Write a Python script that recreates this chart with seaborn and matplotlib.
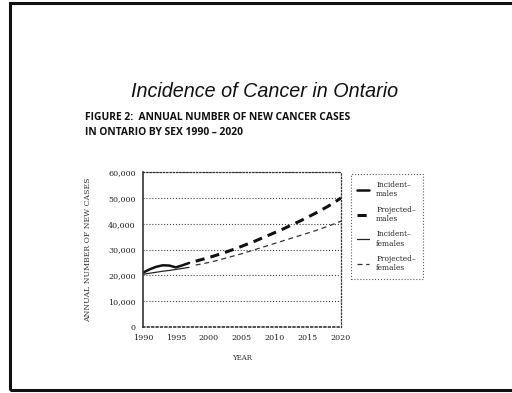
import matplotlib
matplotlib.use("Agg")
import matplotlib.pyplot as plt
from matplotlib.patches import Rectangle
from matplotlib.ticker import MultipleLocator, FuncFormatter
import seaborn as sns
import pandas as pd

# Observed incidence, 1990-1997
incident_years = [1990, 1991, 1992, 1993, 1994, 1995, 1996, 1997]
incident_males = [21000, 22300, 23300, 23900, 23800, 23100, 23900, 24800]
incident_females = [20400, 20800, 21200, 21600, 21900, 22300, 22700, 23100]

# Projections, 1998-2020
projected_years = list(range(1998, 2021))
projected_males = [25500, 26200, 26900, 27700, 28500, 29400, 30300, 31300,
                   32300, 33300, 34400, 35500, 36600, 37700, 38900, 40100,
                   41300, 42600, 43900, 45300, 46700, 48300, 50000]
projected_females = [24000, 24500, 25000, 25600, 26300, 27000, 27700, 28400,
                     29200, 30000, 30800, 31600, 32400, 33200, 34000, 34800,
                     35600, 36400, 37200, 38100, 39000, 40000, 41000]

series_labels = ["Incident\u2013\nmales", "Projected\u2013\nmales",
                 "Incident\u2013\nfemales", "Projected\u2013\nfemales"]
x_ticks = [1990, 1995, 2000, 2005, 2010, 2015, 2020]
y_ticks = [0, 10000, 20000, 30000, 40000, 50000, 60000]

sns.set_style("white")
plt.rcParams["font.family"] = ["DejaVu Serif"]

fig = plt.figure(figsize=(5.12, 3.93), dpi=100)
ax = fig.add_axes([0.279, 0.168, 0.387, 0.394])

frames = [
    pd.DataFrame({"year": incident_years, "cases": incident_males}),
    pd.DataFrame({"year": projected_years, "cases": projected_males}),
    pd.DataFrame({"year": incident_years, "cases": incident_females}),
    pd.DataFrame({"year": projected_years, "cases": projected_females}),
]
styles = [
    dict(color="#111111", linewidth=1.8, linestyle="-"),
    dict(color="#111111", linewidth=2.2, linestyle=(0, (3, 2))),
    dict(color="#222222", linewidth=0.9, linestyle="-"),
    dict(color="#333333", linewidth=0.9, linestyle=(0, (4, 3))),
]
for df, st, lab in zip(frames, styles, series_labels):
    sns.lineplot(data=df, x="year", y="cases", ax=ax, label=lab, **st)

ax.set_xlim(1990, 2020)
ax.set_ylim(0, 60000)
ax.set_xticks(x_ticks)
ax.set_yticks(y_ticks)
ax.yaxis.set_major_formatter(FuncFormatter(lambda v, p: f"{int(v):,}"))
ax.xaxis.set_minor_locator(MultipleLocator(1))
ax.yaxis.set_minor_locator(MultipleLocator(5000))
ax.tick_params(axis="both", which="major", length=0, labelsize=5.8, pad=5,
               colors="#222222")
ax.tick_params(axis="both", which="minor", direction="in", length=2,
               width=0.6, color="#333333")
ax.grid(axis="y", linestyle=":", linewidth=0.8, color="#444444")
ax.grid(axis="x", visible=False)
for side, sp in ax.spines.items():
    sp.set_visible(True)
    sp.set_linestyle(":")
    sp.set_linewidth(0.9)
    sp.set_color("#333333")
ax.spines["left"].set_linestyle("-")
ax.spines["left"].set_linewidth(1.2)
ax.spines["bottom"].set_linewidth(1.2)

ax.set_xlabel("YEAR", fontsize=5, labelpad=9, color="#333333")
ax.set_ylabel("ANNUAL NUMBER OF NEW CASES", fontsize=5.6, labelpad=12,
              color="#333333")

leg = ax.legend(loc="upper left", bbox_to_anchor=(1.03, 1.01),
                frameon=True, fontsize=5.4, handlelength=1.6,
                labelspacing=1.0, borderpad=0.9, handletextpad=0.9,
                fancybox=False)
leg.get_frame().set_linestyle(":")
leg.get_frame().set_edgecolor("#333333")
leg.get_frame().set_linewidth(0.8)

fig.text(0.516, 0.766, "Incidence of Cancer in Ontario", ha="center",
         va="center", fontsize=14.2, style="italic", family="Liberation Sans",
         color="#111111")
fig.text(0.166, 0.702, "FIGURE 2:  ANNUAL NUMBER OF NEW CANCER CASES",
         ha="left", va="center", fontsize=7.4, fontweight="bold",
         family="Open Sans", color="#111111")
fig.text(0.166, 0.663, "IN ONTARIO BY SEX 1990 \u2013 2020",
         ha="left", va="center", fontsize=7.4, fontweight="bold",
         family="Open Sans", color="#111111")

# Slide border; its right edge runs past the canvas
fig.patches.append(Rectangle((0.02, 0.008), 1.0, 0.984,
                             transform=fig.transFigure, fill=False,
                             edgecolor="#111111", linewidth=2.2))

fig.savefig("out.png", dpi=100)
